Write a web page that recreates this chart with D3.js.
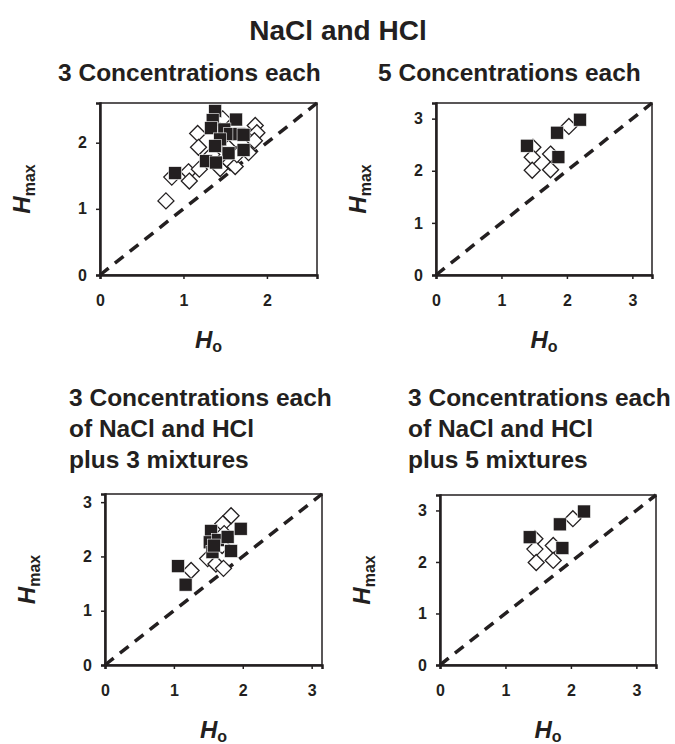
<!DOCTYPE html>
<html lang="en">
<head>
<meta charset="utf-8">
<title>NaCl and HCl</title>
<script src="https://cdn.jsdelivr.net/npm/d3@7"></script>
<style>
  body { margin: 0; background: #fff; }
  svg text { font-family: "Liberation Sans", Arial, sans-serif; font-weight: bold; fill: #231f20; }
  .axis path, .axis line { stroke: #231f20; }
  .axis text { font-size: 16px; }
</style>
</head>
<body>
<div id="chart"></div>
<script>
// ---- data ----
var titles = [
  ["3 Concentrations each"],
  ["5 Concentrations each"],
  ["3 Concentrations each", "of NaCl and HCl", "plus 3 mixtures"],
  ["3 Concentrations each", "of NaCl and HCl", "plus 5 mixtures"]
];
var axisMax = [2.6, 3.3, 3.15, 3.3];
var xTicks = [[0, 1, 2], [0, 1, 2, 3], [0, 1, 2, 3], [0, 1, 2, 3]];
var yTicks = [[0, 1, 2], [0, 1, 2, 3], [0, 1, 2, 3], [0, 1, 2, 3]];

// open diamonds [Ho, Hmax]
var open1 = [[0.79,1.12],[0.86,1.48],[1.06,1.56],[1.07,1.42],[1.17,2.14],[1.18,1.93],[1.19,1.60],
  [1.47,2.36],[1.44,2.17],[1.44,1.61],[1.56,1.70],[1.62,1.64],[1.64,1.82],[1.34,1.82],
  [1.54,1.92],[1.78,1.85],[1.81,2.10],[1.86,2.26],[1.88,2.15],[1.85,2.03]];
var filled1 = [[0.90,1.54],[1.38,2.48],[1.35,2.34],[1.33,2.22],[1.63,2.35],[1.49,2.20],[1.56,2.13],
  [1.67,2.13],[1.72,2.12],[1.44,2.05],[1.38,1.95],[1.72,1.89],[1.54,1.84],[1.27,1.72],[1.39,1.70]];

var open2 = [[1.48,2.45],[1.47,2.26],[1.47,2.01],[1.75,2.32],[1.75,2.02],[2.03,2.85]];
var filled2 = [[1.39,2.48],[1.85,2.73],[1.87,2.26],[2.20,2.98]];

var open3 = [[1.25,1.74],[1.83,2.75],[1.71,2.60],[1.73,2.42],[1.49,1.96],[1.61,1.86],[1.72,1.78],[1.70,2.20]];
var filled3 = [[1.06,1.82],[1.17,1.48],[1.54,2.47],[1.52,2.26],[1.56,2.08],[1.64,2.30],[1.78,2.36],
  [1.83,2.10],[1.97,2.51],[1.58,2.20]];

var open4 = [[1.45,2.45],[1.45,2.25],[1.47,1.99],[1.73,2.32],[1.73,2.03],[2.03,2.84]];
var filled4 = [[1.37,2.48],[1.87,2.27],[1.83,2.73],[2.20,2.98]];

var openSets = [open1, open2, open3, open4];
var filledSets = [filled1, filled2, filled3, filled4];

// ---- layout ----
var width = 675, height = 744;
var frames = [
  {x: 100, y: 103, w: 217, h: 172, tx: 58, ty: 81, lx: 30},
  {x: 436, y: 103, w: 216, h: 172, tx: 378, ty: 81, lx: 366},
  {x: 105, y: 494, w: 217, h: 171, tx: 69, ty: 406, lx: 35},
  {x: 440, y: 495, w: 216, h: 170, tx: 408, ty: 406, lx: 370}
];

var svg = d3.select("#chart").append("svg")
  .attr("width", width)
  .attr("height", height);

svg.append("text")
  .attr("x", 338).attr("y", 40)
  .attr("text-anchor", "middle")
  .style("font-size", "28px")
  .text("NaCl and HCl");

frames.forEach(function(f, i) {
  var x = d3.scaleLinear().domain([0, axisMax[i]]).range([f.x, f.x + f.w]);
  var y = d3.scaleLinear().domain([0, axisMax[i]]).range([f.y + f.h, f.y]);

  var t = svg.append("text").attr("x", f.tx).attr("y", f.ty).style("font-size", "24.5px");
  titles[i].forEach(function(line, j) {
    t.append("tspan").attr("x", f.tx).attr("dy", j == 0 ? 0 : 31).text(line);
  });

  var g = svg.append("g");

  g.append("rect")
    .attr("x", f.x).attr("y", f.y).attr("width", f.w).attr("height", f.h)
    .attr("fill", "none").attr("stroke", "#231f20").attr("stroke-width", 1.5);

  g.append("g").attr("class", "axis")
    .attr("transform", "translate(0," + (f.y + f.h) + ")")
    .call(d3.axisBottom(x).tickValues(xTicks[i]).tickSize(4).tickPadding(16).tickFormat(d3.format("d")))
    .call(function(a) { a.select(".domain").attr("stroke-width", 2.5); a.selectAll("line").attr("stroke-width", 1.5); });

  g.append("g").attr("class", "axis")
    .attr("transform", "translate(" + f.x + ",0)")
    .call(d3.axisLeft(y).tickValues(yTicks[i]).tickSize(4).tickPadding(9).tickFormat(d3.format("d")))
    .call(function(a) { a.select(".domain").attr("stroke-width", 2.5); a.selectAll("line").attr("stroke-width", 1.5); });

  g.selectAll(".axis text").attr("fill", "#231f20").style("font-family", "'Liberation Sans', Arial, sans-serif");

  // y = x line
  var m = axisMax[i];
  g.append("line")
    .attr("x1", x(0)).attr("y1", y(0)).attr("x2", x(m)).attr("y2", y(m))
    .attr("stroke", "#231f20").attr("stroke-width", 3.5).attr("stroke-dasharray", "11,8");

  var d = 8;
  g.selectAll(".open").data(openSets[i]).enter().append("path")
    .attr("d", function(p) {
      var cx = x(p[0]), cy = y(p[1]);
      return "M" + cx + "," + (cy - d) + "L" + (cx + d) + "," + cy + "L" + cx + "," + (cy + d) + "L" + (cx - d) + "," + cy + "Z";
    })
    .attr("fill", "#fff").attr("stroke", "#231f20").attr("stroke-width", 1.3);

  var s = 13;
  g.selectAll(".filled").data(filledSets[i]).enter().append("rect")
    .attr("x", function(p) { return x(p[0]) - s / 2; })
    .attr("y", function(p) { return y(p[1]) - s / 2; })
    .attr("width", s).attr("height", s)
    .attr("fill", "#231f20").attr("stroke", "#fff").attr("stroke-width", 0.6);

  // axis titles
  var xl = svg.append("text")
    .attr("x", f.x + f.w / 2).attr("y", f.y + f.h + 73)
    .attr("text-anchor", "middle").style("font-size", "24px");
  xl.append("tspan").style("font-style", "italic").text("H");
  xl.append("tspan").attr("dy", 4).style("font-size", "16px").text("o");

  var yl = svg.append("text")
    .attr("transform", "translate(" + f.lx + "," + (f.y + f.h / 2) + ") rotate(-90)")
    .attr("text-anchor", "middle").style("font-size", "24px");
  yl.append("tspan").style("font-style", "italic").text("H");
  yl.append("tspan").attr("dy", 5).style("font-size", "16px").text("max");
});
</script>
</body>
</html>
